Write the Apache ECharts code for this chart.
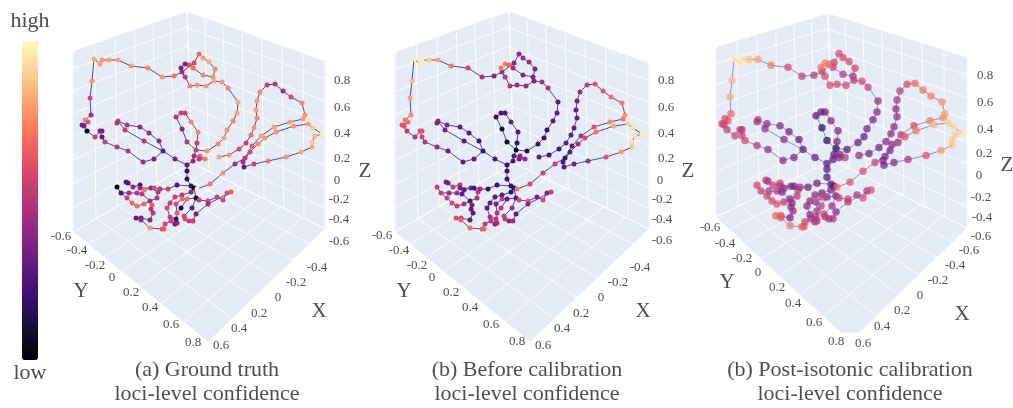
<!DOCTYPE html>
<html><head><meta charset="utf-8">
<style>html,body{margin:0;padding:0;background:#fff}#c{width:1013px;height:408px}</style>
<script src="https://cdn.jsdelivr.net/npm/echarts@6/dist/echarts.min.js"></script></head>
<body><div id="c"></div>
<script>
// rows: [x, y, ground truth, before calibration, post-isotonic]
const leftArm=[[118,60,.8,.8,.8],[109,60,.8,.9,.88],[102,60,.78,.97,.95],[100,64,.8,.96,.96],[94,59,.82,.97,.97],[92,81,.78,.85,.85],[90,98,.6,.8,.82],[91,115,.45,.75,.68],[85,120,.75,.72,.6],[88,122,.62,.7,.62],[82,125,.35,.62,.58],[84,126,.35,.62,.55],[87,131,.05,.52,.55],[95,137,.55,.5,.58],[100,131,.35,.62,.52],[102,131,.35,.62,.5],[102,137,.3,.58,.55],[105,142,.55,.5,.58],[117,147,.5,.42,.5],[128,151,.5,.33,.42],[143,162,.45,.3,.4],[154,159,.35,.3,.36],[163,151,.3,.2,.3],[175,159,.35,.25,.32],[187,165,.3,.2,.28],[187,171,.2,.22,.28],[187,179,.18,.2,.28],[191,186,.2,.2,.3],[194,188,.05,.15,.25]];
const topArm=[[118,60,.8,.8,.8],[131,66,.78,.72,.72],[148,68,.75,.58,.6],[162,77,.78,.48,.52],[174,76,.72,.38,.5],[182,72,.45,.45,.52],[194,63,.6,.4,.58],[199,54,.68,.42,.6],[203,58,.8,.42,.6],[209,62,.82,.42,.6],[215,69,.75,.38,.58],[213,77,.78,.38,.48],[203,75,.75,.38,.5],[193,68,.7,.42,.55],[189,65,.6,.65,.68],[185,64,.35,.72,.72],[181,68,.35,.72,.7],[182,72,.45,.45,.52],[185,77,.55,.5,.6],[190,86,.75,.5,.6],[197,85,.78,.42,.6],[206,86,.8,.42,.58],[214,81,.82,.38,.52],[222,82,.78,.45,.58],[228,88,.75,.48,.55],[238,102,.82,.3,.42],[237,113,.82,.3,.4],[233,121,.75,.28,.38],[227,130,.78,.2,.36],[224,138,.8,.2,.3],[218,144,.75,.22,.33],[207,151,.78,.15,.28],[196,150,.55,.05,.15]];
const upperLoop=[[196,150,.55,.05,.15],[187,142,.5,.08,.15],[182,129,.4,.08,.15],[176,117,.5,.2,.28],[181,113,.55,.25,.33],[185,113,.55,.25,.33],[191,122,.75,.3,.38],[198,132,.75,.28,.38],[197,143,.55,.22,.35],[196,150,.55,.05,.15]];
const midLoop=[[163,151,.3,.2,.3],[159,141,.4,.22,.3],[149,133,.42,.3,.35],[140,127,.42,.3,.38],[127,125,.5,.38,.42],[118,121,.55,.42,.5],[117,123,.5,.38,.48],[125,130,.55,.35,.42],[144,141,.5,.28,.4],[163,151,.3,.2,.3]];
const connector=[[196,150,.55,.05,.15],[194,156,.45,.25,.3],[193,161,.4,.25,.3],[187,165,.3,.2,.28]];
const sideTwig=[[194,156,.45,.25,.3],[200,156,.68,.4,.4],[205,159,.72,.42,.5],[199,159,.5,.35,.4]];
const rightArm=[[194,188,.05,.15,.25],[197,189,.97,.72,.7],[210,184,.72,.6,.62],[223,173,.78,.58,.6],[235,164,.45,.55,.55],[245,158,.5,.2,.35],[252,146,.65,.28,.4],[261,136,.8,.45,.5],[274,127,.8,.62,.6],[290,122,.8,.75,.72],[303,119,.8,.72,.76],[305,115,.78,.78,.8],[302,103,.75,.72,.75],[291,97,.6,.7,.72],[283,91,.45,.65,.7],[275,84,.5,.62,.68],[267,85,.55,.52,.6],[260,92,.75,.45,.52],[257,101,.78,.35,.45],[256,110,.8,.32,.42],[257,118,.75,.3,.42],[254,128,.78,.32,.4],[251,135,.7,.3,.4],[246,143,.55,.3,.4],[239,149,.6,.25,.35],[229,155,.78,.25,.35],[219,157,.82,.3,.42]];
const outerLoop=[[322,134,.97,.97,.95],[313,128,.88,.95,.93],[308,124,.8,.9,.9],[294,126,.78,.82,.85],[276,132,.78,.72,.72],[265,138,.78,.6,.62],[258,144,.75,.45,.45],[250,152,.6,.3,.38],[243,162,.45,.28,.35],[244,167,.3,.28,.35],[254,164,.55,.35,.4],[268,161,.72,.45,.48],[286,157,.78,.62,.62],[301,152,.82,.78,.78],[312,147,.82,.88,.88],[312,142,.9,.93,.9],[315,136,.85,.93,.9],[322,134,.97,.97,.95]];
const lowA=[[117,187,0,.55,.58],[121,193,.25,.55,.55],[127,198,.55,.55,.58],[132,203,.68,.6,.6],[137,206,.7,.55,.62],[144,204,.68,.48,.55],[150,201,.45,.25,.38],[157,198,.5,.48,.5],[158,192,.5,.52,.55],[151,188,.4,.35,.4]];
const lowB=[[126,182,.3,.35,.5],[128,183,.25,.35,.5],[133,187,.42,.55,.55],[140,185,.25,.5,.55],[140,188,.4,.35,.5],[151,188,.4,.35,.4],[154,188,.6,.25,.35],[160,189,.5,.45,.45],[168,189,.55,.2,.35],[177,185,.25,.2,.35],[191,186,.2,.2,.3]];
const lowC=[[121,193,.25,.55,.55],[129,193,.45,.45,.5],[137,193,.5,.45,.5],[142,194,.5,.3,.38],[144,190,.7,.3,.42],[151,188,.4,.35,.4]];
const lowC2=[[142,194,.5,.3,.38],[150,201,.45,.25,.38]];
const lowD=[[150,201,.45,.25,.38],[152,205,.65,.35,.4],[151,209,.5,.3,.4],[153,213,.5,.3,.42],[150,220,.4,.3,.35],[141,218,.35,.55,.55],[136,218,.3,.6,.65],[141,220,.4,.65,.65],[150,228,.78,.7,.72],[162,229,.65,.68,.65],[164,229,.65,.68,.65],[165,224,.6,.55,.55],[171,221,.55,.5,.5],[175,224,.3,.35,.45],[177,223,.4,.45,.5],[176,219,.2,.5,.5],[170,217,.55,.45,.4],[167,208,.6,.3,.4],[170,203,.55,.3,.42],[175,197,.55,.28,.4],[182,195,.5,.28,.38],[191,192,.4,.2,.35],[194,188,.05,.15,.25]];
const lowE=[[177,223,.4,.45,.5],[177,213,.65,.5,.5],[181,208,.15,.5,.52],[187,199,.7,.3,.38],[196,198,.05,.28,.35]];
const lowE2=[[177,213,.65,.5,.5],[176,204,.6,.35,.45],[182,199,.7,.55,.55],[187,199,.7,.3,.38]];
const lowF=[[194,188,.05,.15,.25],[196,198,.05,.28,.35],[199,200,.55,.6,.55],[208,201,.6,.65,.6],[217,197,.55,.35,.45],[223,200,.6,.6,.6],[227,193,.6,.35,.45],[231,192,.65,.55,.6],[208,204,.45,.4,.5],[196,214,.35,.3,.4],[193,221,.55,.45,.5],[189,221,.55,.4,.45],[185,219,.6,.52,.5],[184,216,.6,.55,.55],[192,208,.3,.45,.45],[196,198,.05,.28,.35]];
const chains=[leftArm,topArm,upperLoop,midLoop,connector,sideTwig,rightArm,outerLoop,lowA,lowB,lowC,lowC2,lowD,lowE,lowE2,lowF];

const magma=['#000004','#140e36','#3b0f70','#641a80','#8c2981','#b73779','#de4968','#f7705c','#fe9f6d','#fecf92','#fcfdbf'];

// axis text: [x, y, label]
const ticksA=[[342,81,'0.8'],[342,108,'0.6'],[342,134,'0.4'],[342,159,'0.2'],[337,181,'0'],[339,200,'-0.2'],[339,220,'-0.4'],[339,242,'-0.6'],[317,268,'-0.4'],[296,283,'-0.2'],[278,298,'0'],[259,314,'0.2'],[239,329,'0.4'],[221,346,'0.6'],[193,343,'0.8'],[171,325,'0.6'],[150,308,'0.4'],[131,293,'0.2'],[112,278,'0'],[95,266,'-0.2'],[77,251,'-0.4'],[61,237,'-0.6']];
const ticksB=[[666,81,'0.8'],[666,108,'0.6'],[666,134,'0.4'],[666,159,'0.2'],[660,181,'0'],[662,200,'-0.2'],[662,220,'-0.4'],[662,241,'-0.6'],[640,268,'-0.4'],[618,283,'-0.2'],[601,298,'0'],[581,314,'0.2'],[562,329,'0.4'],[543,346,'0.6'],[517,342,'0.8'],[491,325,'0.6'],[470,308,'0.4'],[451,293,'0.2'],[432,278,'0'],[417,266,'-0.2'],[399,251,'-0.4'],[382,236,'-0.6']];
const ticksC=[[985,76,'0.8'],[985,103,'0.6'],[985,130,'0.4'],[984,154,'0.2'],[979,176,'0'],[981,198,'-0.2'],[982,218,'-0.4'],[981,237,'-0.6'],[969,251,'-0.6'],[955,266,'-0.4'],[938,281,'-0.2'],[920,296,'0'],[902,311,'0.2'],[882,327,'0.4'],[863,344,'0.6'],[836,342,'0.8'],[814,323,'0.6'],[793,304,'0.4'],[777,288,'0.2'],[758,273,'0'],[742,259,'-0.2'],[725,244,'-0.4'],[710,228,'-0.6']];
const axisNames=[[365,171,'Z'],[81,291,'Y'],[319,311,'X'],[688,171,'Z'],[404,291,'Y'],[643,311,'X'],[1007,165,'Z'],[727,282,'Y'],[962,314,'X']];
const captions=[[207,370,'(a) Ground truth'],[207,394,'loci-level confidence'],[527,370,'(b) Before calibration'],[527,394,'loci-level confidence'],[850,370,'(b) Post-isotonic calibration'],[850,394,'loci-level confidence'],[30,21,'high'],[30,373,'low']];

// plot boxes: back-top T, left-top LT, right-top RT, back-floor P, left L, front F, right R, outline
const boxes=[
 {T:[187,13],LT:[73,52],RT:[325,62],P:[192,163],L:[73,232],F:[208,342],R:[325,229],outline:[[73,54],[75,51],[184,13],[190,13],[325,62],[325,229],[209,341],[207,341],[75,233],[73,230]]},
 {T:[509,13],LT:[395,53],RT:[649,64],P:[514,163],L:[395,232],F:[530,342],R:[649,229],outline:[[395,55],[397,52],[506,13],[512,13],[649,64],[649,229],[531,341],[529,341],[397,233],[395,230]]},
 {T:[828,15],LT:[716,48],RT:[967,58],P:[833,160],L:[716,217],F:[850,341],R:[967,228],outline:[[716,50],[718,47],[825,15],[831,15],[967,58],[967,226],[958,237],[860,332],[840,332],[722,223],[716,215]]}
];
const X_T=7,Y_T=8,Z_LO=-0.6,Z_HI=0.95;

function homography(p0,p1,p2,p3){
  const dx1=p1[0]-p2[0],dx2=p3[0]-p2[0],sx=p0[0]-p1[0]+p2[0]-p3[0];
  const dy1=p1[1]-p2[1],dy2=p3[1]-p2[1],sy=p0[1]-p1[1]+p2[1]-p3[1];
  const den=dx1*dy2-dx2*dy1,g=(sx*dy2-dx2*sy)/den,h=(dx1*sy-sx*dy1)/den;
  const a=p1[0]-p0[0]+g*p1[0],b=p3[0]-p0[0]+h*p3[0],d=p1[1]-p0[1]+g*p1[1],e=p3[1]-p0[1]+h*p3[1];
  return (u,v)=>{const w=g*u+h*v+1;return [(a*u+b*v+p0[0])/w,(d*u+e*v+p0[1])/w];};
}
function gridSegs(H,us,vs){
  const s=[];
  us.forEach(u=>s.push([H(u,0),H(u,1)]));
  vs.forEach(v=>s.push([H(0,v),H(1,v)]));
  return s;
}
const steps=n=>Array.from({length:n},(_,i)=>i/(n-1));
const zs=[-0.6,-0.4,-0.2,0,0.2,0.4,0.6,0.8].map(z=>1-(z-Z_LO)/(Z_HI-Z_LO));
function segsFor(b){
  return [
    ...gridSegs(homography(b.LT,b.T,b.P,b.L),steps(X_T),zs),
    ...gridSegs(homography(b.T,b.RT,b.R,b.P),steps(Y_T),zs),
    ...gridSegs(homography(b.L,b.F,b.R,b.P),steps(Y_T),steps(X_T))
  ];
}

const chart=echarts.init(document.getElementById('c'),null,{renderer:'canvas'});
const serif='"Liberation Serif","DejaVu Serif",serif';
function xA(i,max){return {type:'value',gridIndex:i,min:0,max:max,show:false};}
function yA(i){return {type:'value',gridIndex:i,min:0,max:408,inverse:true,show:false};}
const W=1013,H=408;
const grids=[{left:0,top:0,width:W,height:H},
  {left:0,top:0,width:340,height:H},{left:320,top:0,width:340,height:H},{left:640,top:-4,width:340,height:H}];

function lineData(){const o=[];chains.forEach((c,i)=>{if(i)o.push([null,null]);c.forEach(r=>o.push([r[0],r[1]]));});return o;}
function nodeData(){const m=new Map();chains.forEach(c=>c.forEach(r=>m.set(r[0]+','+r[1],r)));return [...m.values()];}
function textSeries(data,size,color){
  return {type:'scatter',xAxisIndex:0,yAxisIndex:0,data:data,symbolSize:1,silent:true,z:5,
    itemStyle:{color:'rgba(0,0,0,0)'},
    label:{show:true,position:'inside',formatter:p=>p.data[2],fontFamily:serif,fontSize:size,color:color,align:'center',verticalAlign:'middle'}};
}
const panelLook=[{lc:'#3c43ad',lw:1,lo:.95,sz:5,op:1},{lc:'#3c43ad',lw:1,lo:.95,sz:5,op:1},{lc:'#5a62c4',lw:1,lo:.65,sz:7.5,op:.72}];
const series=[
 {type:'custom',xAxisIndex:0,yAxisIndex:0,coordinateSystem:'cartesian2d',silent:true,z:1,clip:false,
  data:boxes.map((b,i)=>[i]),
  renderItem:(params,api)=>{
    const b=boxes[api.value(0)],cv=p=>api.coord(p);
    const kids=[{type:'polygon',shape:{points:b.outline.map(cv)},style:{fill:'#e5ecf6',stroke:'#e5ecf6',lineWidth:1,lineJoin:'round'}}];
    segsFor(b).forEach(s=>{const a=cv(s[0]),c=cv(s[1]);
      kids.push({type:'line',shape:{x1:a[0],y1:a[1],x2:c[0],y2:c[1]},style:{stroke:'rgba(255,255,255,.85)',lineWidth:1}});});
    return {type:'group',children:kids};
  }},
 textSeries(ticksA,13,'#222'),textSeries(ticksB,13,'#222'),textSeries(ticksC,13,'#222'),
 textSeries(axisNames,21,'#222'),textSeries(captions,22,'#222')
];
const firstPanelSeries=series.length;
[0,1,2].forEach(i=>{
  const L=panelLook[i];
  series.push({type:'line',xAxisIndex:i+1,yAxisIndex:i+1,data:lineData(),showSymbol:false,symbol:'none',connectNulls:false,silent:true,z:3,
    lineStyle:{color:L.lc,width:L.lw,opacity:L.lo}});
});
[0,1,2].forEach(i=>{
  const L=panelLook[i];
  series.push({type:'scatter',xAxisIndex:i+1,yAxisIndex:i+1,data:nodeData(),encode:{x:0,y:1},symbolSize:L.sz,silent:true,z:4,
    itemStyle:{opacity:L.op}});
});
const vm=i=>({type:'continuous',min:0,max:1,dimension:2+i,seriesIndex:firstPanelSeries+3+i,inRange:{color:magma},
  show:i===0,calculable:false,realtime:false,orient:'vertical',left:7,top:26,itemWidth:16,itemHeight:319,
  text:null,showLabel:false,handleStyle:{opacity:0},indicatorStyle:{opacity:0},hoverLink:false});

chart.setOption({animation:false,backgroundColor:'#fff',
  grid:grids,
  xAxis:[xA(0,W),xA(1,340),xA(2,340),xA(3,340)],
  yAxis:[yA(0),yA(1),yA(2),yA(3)],
  visualMap:[vm(0),vm(1),vm(2)],
  series});
</script></body></html>
